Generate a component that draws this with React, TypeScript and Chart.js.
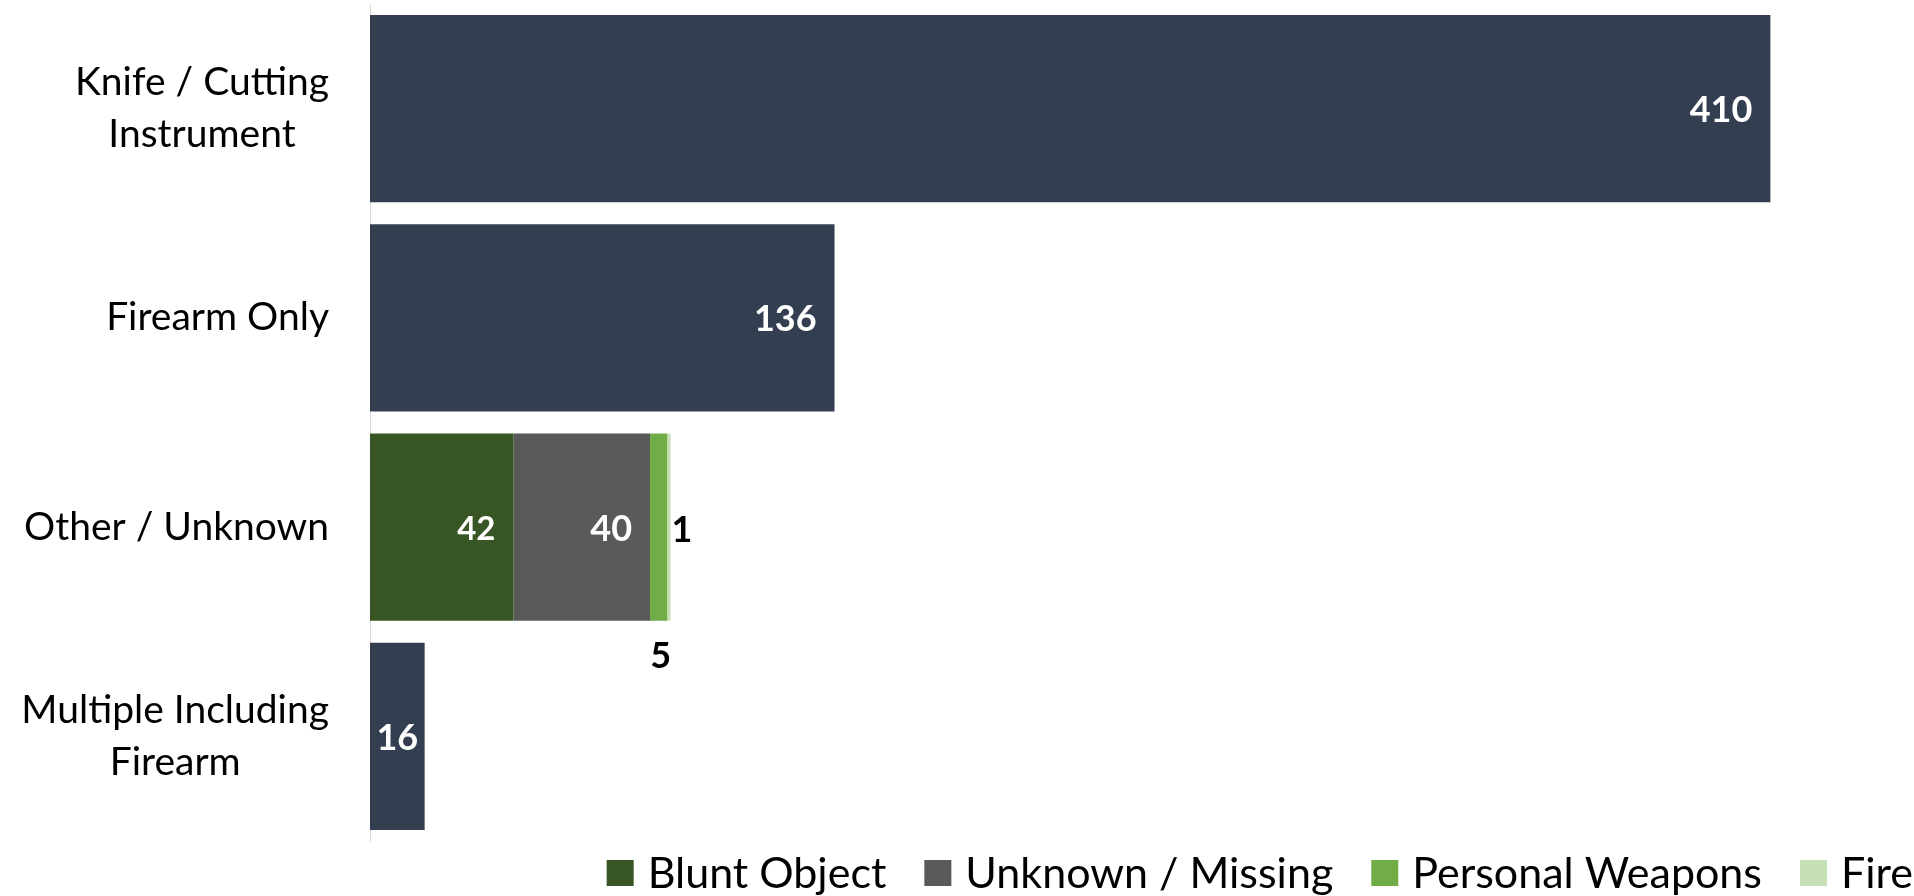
import React, { useEffect, useRef } from "react";
import { Chart, registerables } from "chart.js";

Chart.register(...registerables);

// ---- data ----
const categories: string[][] = [
  ["Knife / Cutting", "Instrument"],
  ["Firearm Only"],
  ["Other / Unknown"],
  ["Multiple Including", "Firearm"],
];
const singleWeapon = [410, 136, null, 16];
const bluntObject = [null, null, 42, null];
const unknownMissing = [null, null, 40, null];
const personalWeapons = [null, null, 5, null];
const fire = [null, null, 1, null];
const seriesNames = ["Weapon", "Blunt Object", "Unknown / Missing", "Personal Weapons", "Fire"];
const seriesColors = ["#333F50", "#375623", "#595959", "#70AD47", "#C5E0B4"];
const xMax = 450;

const FONT = "Lato, 'Open Sans', sans-serif";

// label placement per dataset
type LabelMode = "insideEnd" | "below" | "right";
const labelModes: LabelMode[] = ["insideEnd", "insideEnd", "insideEnd", "below", "right"];
const labelSizes = [36, 33, 36, 36, 36];
const labelColors = ["#FFFFFF", "#FFFFFF", "#FFFFFF", "#000000", "#000000"];

const barLabelsPlugin = {
  id: "barLabels",
  afterDatasetsDraw(chart: any) {
    const ctx: CanvasRenderingContext2D = chart.ctx;
    ctx.save();
    chart.data.datasets.forEach((ds: any, di: number) => {
      const meta = chart.getDatasetMeta(di);
      meta.data.forEach((bar: any, i: number) => {
        const v = ds.data[i];
        if (v == null) return;
        const { x, y, base, height } = bar.getProps(["x", "y", "base", "height"], true);
        const text = String(v);
        ctx.font = `bold ${labelSizes[di]}px ${FONT}`;
        ctx.fillStyle = labelColors[di];
        ctx.textBaseline = "middle";
        const w = ctx.measureText(text).width;
        const mode = labelModes[di];
        if (mode === "insideEnd") {
          const pad = 18;
          let lx = x - pad - w;
          if (lx < base + 3) lx = (x + base) / 2 - w / 2;
          ctx.textAlign = "left";
          ctx.fillText(text, lx, y + 2);
        } else if (mode === "below") {
          ctx.textAlign = "center";
          ctx.fillText(text, (x + base) / 2 + 2, y + height / 2 + 36);
        } else {
          ctx.textAlign = "left";
          ctx.fillText(text, x + 1, y + 3);
        }
      });
    });
    ctx.restore();
  },
};

const categoryLabelsPlugin = {
  id: "categoryLabels",
  afterDraw(chart: any) {
    const ctx: CanvasRenderingContext2D = chart.ctx;
    const yScale = chart.scales.y;
    const right = chart.chartArea.left - 41;
    const lineH = 52;
    ctx.save();
    ctx.font = `39px ${FONT}`;
    ctx.fillStyle = "#000000";
    ctx.textBaseline = "middle";
    ctx.textAlign = "center";
    categories.forEach((lines, i) => {
      const cy = yScale.getPixelForValue(i);
      const maxW = Math.max(...lines.map((l) => ctx.measureText(l).width));
      const cx = right - maxW / 2;
      const y0 = cy - ((lines.length - 1) * lineH) / 2;
      lines.forEach((l, k) => ctx.fillText(l, cx, y0 + k * lineH));
    });
    ctx.restore();
  },
};

const legendPlugin = {
  id: "customLegend",
  afterDraw(chart: any) {
    const ctx: CanvasRenderingContext2D = chart.ctx;
    const items = chart.data.datasets.slice(1);
    const box = 27;
    const boxH = 26;
    const gap = 14;
    const itemGap = 38;
    const rightEdge = 1913;
    const cy = 873;
    ctx.save();
    ctx.font = `43px ${FONT}`;
    ctx.textBaseline = "middle";
    ctx.textAlign = "left";
    const widths = items.map((d: any) => ctx.measureText(d.label).width);
    const total =
      widths.reduce((a: number, b: number) => a + b, 0) + items.length * (box + gap) + (items.length - 1) * itemGap;
    let x = rightEdge - total;
    items.forEach((d: any, k: number) => {
      ctx.fillStyle = d.backgroundColor;
      ctx.fillRect(x, cy - boxH / 2, box, boxH);
      x += box + gap;
      ctx.fillStyle = "#000000";
      ctx.fillText(d.label, x, cy + 1);
      x += widths[k] + itemGap;
    });
    ctx.restore();
  },
};

export default function App() {
  const canvasRef = useRef<HTMLCanvasElement | null>(null);

  useEffect(() => {
    document.body.style.margin = "0";
    let chart: Chart | null = null;
    let cancelled = false;
    const build = () => {
      if (cancelled || !canvasRef.current) return;
      const seriesData = [singleWeapon, bluntObject, unknownMissing, personalWeapons, fire];
      chart = new Chart(canvasRef.current, {
        type: "bar",
        data: {
          labels: categories.map((c) => c.join(" ")),
          datasets: seriesData.map((d, k) => ({
            label: seriesNames[k],
            data: d as any,
            backgroundColor: seriesColors[k],
            borderWidth: 0,
            barPercentage: 0.894,
            categoryPercentage: 1,
          })),
        },
        options: {
          indexAxis: "y",
          responsive: false,
          animation: false,
          devicePixelRatio: 1,
          layout: { padding: { top: 4, right: 7, bottom: 55, left: 0 } },
          plugins: {
            legend: { display: false },
            tooltip: { enabled: false },
          },
          scales: {
            x: { stacked: true, display: false, min: 0, max: xMax },
            y: {
              stacked: true,
              grid: { display: false },
              border: { display: true, color: "#D9D9D9", width: 1 },
              ticks: { display: false },
              afterFit: (s: any) => {
                s.width = 370;
              },
            },
          },
        },
        plugins: [barLabelsPlugin, categoryLabelsPlugin, legendPlugin],
      });
    };
    const fontsReady = (document as any).fonts
      ? Promise.all([
          (document as any).fonts.load(`39px Lato`),
          (document as any).fonts.load(`bold 36px Lato`),
        ]).catch(() => null)
      : Promise.resolve(null);
    fontsReady.then(build);
    return () => {
      cancelled = true;
      if (chart) chart.destroy();
    };
  }, []);

  return (
    <div style={{ width: 1914, height: 896, background: "#FFFFFF" }}>
      <canvas ref={canvasRef} width={1914} height={896} style={{ display: "block" }} />
    </div>
  );
}
